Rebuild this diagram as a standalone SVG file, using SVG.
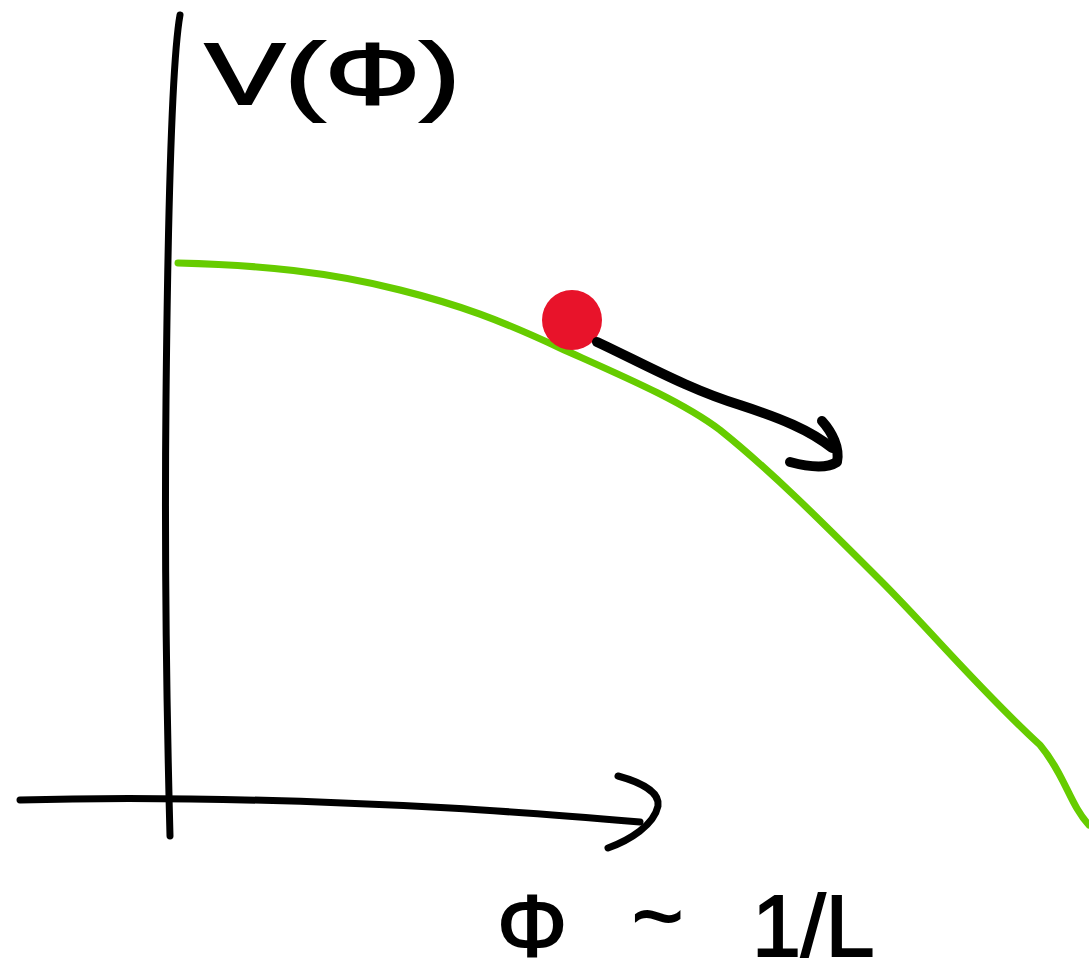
<svg xmlns="http://www.w3.org/2000/svg" width="1089" height="980" viewBox="0 0 1089 980">
<style>
.ink{fill:none;stroke:#000;stroke-width:7;stroke-linecap:round;stroke-linejoin:round}
.arrow{fill:none;stroke:#000;stroke-width:10;stroke-linecap:round;stroke-linejoin:round}
.curve{fill:none;stroke:#66cc00;stroke-width:7;stroke-linecap:round;stroke-linejoin:round}
.lbl{font-family:"Liberation Sans",Arial,sans-serif;font-size:88px;fill:#000;stroke:#000;stroke-width:2}
</style>
<rect width="1089" height="980" fill="#fff"/>
<g id="axes">
<path class="ink" d="M180,15 C172,60 168,200 166,400 C164,600 168,760 170,836"/>
<path class="ink" d="M20,800 C150,796 300,800 450,808 C520,812 580,817 640,822"/>
<path class="ink" d="M618,776 C640,782 660,792 658,806 C654,825 630,840 608,848"/>
</g>
<g id="potential-curve">
<path class="curve" d="M178,263 C260,265 330,272 400,290 C460,305 500,320 560,348 C620,375 680,400 720,430 C770,470 820,520 880,580 C930,630 980,690 1040,745 C1065,775 1070,805 1089,825"/>
</g>
<g id="ball">
<circle cx="572" cy="320" r="30" fill="#e8132a"/>
</g>
<g id="connectors">
<path class="arrow" d="M597,342 C640,362 690,390 740,405 C780,418 810,430 832,448"/>
<path class="arrow" d="M822,421 C832,432 840,448 837,462 C825,470 805,466 790,462"/>
</g>
<g id="label-v">
<text class="lbl" x="205" y="104" textLength="255" lengthAdjust="spacingAndGlyphs">V(Φ)</text>
</g>
<g id="label-x">
<text class="lbl"><tspan x="497" y="956">Φ</tspan><tspan x="632" y="946">~</tspan><tspan x="752" y="956">1/L</tspan></text>
</g>
</svg>
